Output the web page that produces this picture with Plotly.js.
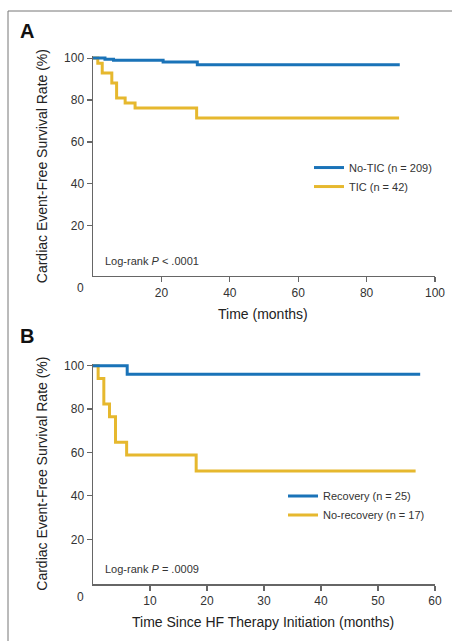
<!DOCTYPE html>
<html>
<head>
<meta charset="utf-8">
<script src="https://cdn.plot.ly/plotly-3.0.1.min.js"></script>
<style>html,body{margin:0;padding:0;background:#fff;}#chart{width:452px;height:641px;}</style>
</head>
<body>
<div id="chart"></div>
<script>
// Panel A: TIC vs No-TIC
const aNoTicTime = [0, 3.5, 6, 20.5, 30.5, 89.7];
const aNoTicSurv = [100, 99.5, 99.0, 98.1, 96.8, 96.8];
const aTicTime = [0, 1.4, 2.7, 5.5, 6.9, 9.4, 12.3, 30.3, 89.5];
const aTicSurv = [100, 97.6, 92.9, 88.1, 81.0, 78.6, 76.2, 71.4, 71.4];
// Panel B: Recovery vs No-recovery
const bRecTime = [0, 6.0, 57.4];
const bRecSurv = [100, 96, 96];
const bNoRecTime = [0, 0.9, 1.9, 2.9, 3.95, 5.9, 18.1, 56.6];
const bNoRecSurv = [100, 94.1, 82.4, 76.5, 64.7, 58.8, 51.5, 51.5];

const aLabels = ['No-TIC (n = 209)', 'TIC (n = 42)'];
const bLabels = ['Recovery (n = 25)', 'No-recovery (n = 17)'];
const aXTicks = [20, 40, 60, 80, 100];
const bXTicks = [10, 20, 30, 40, 50, 60];
const yTicks = [20, 40, 60, 80, 100];

const BLUE = '#1a73b8';
const GOLD = '#e6b82e';
const FONT = 'Liberation Sans, Arial, sans-serif';

const traces = [
  {x: aTicTime, y: aTicSurv, name: aLabels[1], mode: 'lines', line: {shape: 'hv', color: GOLD, width: 3}, xaxis: 'x', yaxis: 'y', legend: 'legend', legendrank: 2},
  {x: aNoTicTime, y: aNoTicSurv, name: aLabels[0], mode: 'lines', line: {shape: 'hv', color: BLUE, width: 3}, xaxis: 'x', yaxis: 'y', legend: 'legend', legendrank: 1},
  {x: bNoRecTime, y: bNoRecSurv, name: bLabels[1], mode: 'lines', line: {shape: 'hv', color: GOLD, width: 3}, xaxis: 'x2', yaxis: 'y2', legend: 'legend2', legendrank: 2},
  {x: bRecTime, y: bRecSurv, name: bLabels[0], mode: 'lines', line: {shape: 'hv', color: BLUE, width: 3}, xaxis: 'x2', yaxis: 'y2', legend: 'legend2', legendrank: 1}
];

const axisCommon = {
  showgrid: false, zeroline: false, showline: true, linecolor: '#666', linewidth: 1.5,
  ticks: 'outside', ticklen: 5, tickwidth: 1.2, tickcolor: '#666',
  tickfont: {family: FONT, size: 12, color: '#333'}, fixedrange: true
};

const ann = (x, y, text, opts) => Object.assign({xref: 'paper', yref: 'paper', x: x, y: y, text: text, showarrow: false,
  xanchor: 'center', yanchor: 'middle', font: {family: FONT, size: 14, color: '#222'}}, opts || {});

const layout = {
  width: 452, height: 641,
  margin: {l: 93, r: 17, t: 56, b: 57},
  paper_bgcolor: '#fff', plot_bgcolor: '#fff',
  showlegend: true,
  font: {family: FONT, color: '#333'},
  xaxis: Object.assign({}, axisCommon, {range: [0, 100], tickvals: aXTicks, anchor: 'y', domain: [0, 1]}),
  yaxis: Object.assign({}, axisCommon, {range: [-3.8, 101], tickvals: yTicks, anchor: 'x', domain: [0.5839, 1]}),
  xaxis2: Object.assign({}, axisCommon, {range: [0, 60], tickvals: bXTicks, anchor: 'y2', domain: [0, 1]}),
  yaxis2: Object.assign({}, axisCommon, {range: [-0.6, 101], tickvals: yTicks, anchor: 'x2', domain: [0, 0.4176]}),
  legend: {x: 0.6316, y: 0.8162, xanchor: 'left', yanchor: 'top', bgcolor: 'rgba(0,0,0,0)', borderwidth: 0,
    font: {family: FONT, size: 11, color: '#333'}, tracegroupgap: 0},
  legend2: {x: 0.5556, y: 0.1941, xanchor: 'left', yanchor: 'top', bgcolor: 'rgba(0,0,0,0)', borderwidth: 0,
    font: {family: FONT, size: 11, color: '#333'}, tracegroupgap: 0},
  shapes: [
    {type: 'rect', xref: 'paper', yref: 'paper', x0: -0.2485, x1: 1.2, y0: -0.2, y1: 1.0852,
     line: {color: '#777', width: 1}, fillcolor: 'rgba(0,0,0,0)'}
  ],
  annotations: [
    ann(-0.1939, 1.0479, '<b>A</b>', {font: {family: FONT, size: 20, color: '#111'}}),
    ann(-0.1939, 0.4697, '<b>B</b>', {font: {family: FONT, size: 20, color: '#111'}}),
    ann(-0.15, 0.7907, 'Cardiac Event-Free Survival Rate (%)', {textangle: -90}),
    ann(-0.15, 0.2083, 'Cardiac Event-Free Survival Rate (%)', {textangle: -90}),
    ann(0.4971, 0.5114, 'Time (months)'),
    ann(0.4971, -0.0725, 'Time Since HF Therapy Initiation (months)'),
    ann(-0.038, 0.5606, '0', {font: {family: FONT, size: 12, color: '#333'}}),
    ann(-0.038, -0.024, '0', {font: {family: FONT, size: 12, color: '#333'}}),
    ann(0.0292, 0.6123, 'Log-rank <i>P</i> < .0001', {xanchor: 'left', font: {family: FONT, size: 11, color: '#333'}}),
    ann(0.0292, 0.0284, 'Log-rank <i>P</i> = .0009', {xanchor: 'left', font: {family: FONT, size: 11, color: '#333'}})
  ]
};

Plotly.newPlot('chart', traces, layout, {staticPlot: true, displayModeBar: false});
</script>
</body>
</html>
